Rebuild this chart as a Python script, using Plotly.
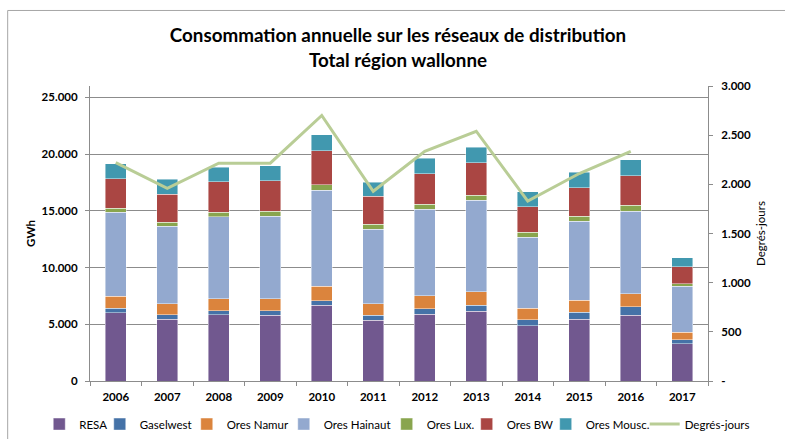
import plotly.graph_objects as go

years = ["2006", "2007", "2008", "2009", "2010", "2011", "2012", "2013", "2014", "2015", "2016", "2017"]

resa      = [6000, 5430, 5840, 5810, 6690, 5370, 5900, 6130, 4870, 5430, 5810, 3270]
gaselwest = [400, 410, 350, 380, 400, 440, 490, 530, 530, 610, 730, 350]
namur     = [1050, 970, 1080, 1080, 1270, 990, 1120, 1200, 1030, 1090, 1170, 670]
hainaut   = [7440, 6820, 7200, 7260, 8450, 6560, 7610, 8050, 6260, 6960, 7260, 4040]
lux       = [350, 380, 410, 440, 470, 440, 440, 470, 440, 440, 500, 240]
bw        = [2570, 2430, 2660, 2700, 3020, 2490, 2720, 2840, 2220, 2490, 2630, 1520]
mousc     = [1350, 1320, 1320, 1320, 1400, 1230, 1340, 1380, 1350, 1380, 1400, 760]
degres    = [2220, 1960, 2215, 2215, 2700, 1930, 2335, 2540, 1830, 2110, 2335, None]

series = [
    ("RESA", resa, "#71588F", 15.5, "legend"),
    ("Gaselwest", gaselwest, "#4572A7", 42, "legend"),
    ("Ores Namur", namur, "#DB843D", 52, "legend"),
    ("Ores Hainaut", hainaut, "#93A9CF", 72, "legend"),
    ("Ores Lux.", lux, "#89A54E", 35, "legend2"),
    ("Ores BW", bw, "#AA4643", 34, "legend2"),
    ("Ores Mousc.", mousc, "#4198AF", 54, "legend2"),
]

left_ticks = [0, 5000, 10000, 15000, 20000, 25000]
left_text = ["0", "5.000", "10.000", "15.000", "20.000", "25.000"]
right_ticks = [0, 500, 1000, 1500, 2000, 2500, 3000]
right_text = ["-", "500", "1.000", "1.500", "2.000", "2.500", "3.000"]

FONT = "Lato, Calibri, Carlito, sans-serif"

fig = go.Figure()
for name, vals, col, lw, lg in series:
    fig.add_trace(go.Bar(
        x=years, y=vals, name=name, legendwidth=lw, legend=lg,
        marker=dict(color=col, line=dict(color="rgba(255,255,255,0.55)", width=0.8)),
    ))

fig.add_trace(go.Scatter(
    x=years, y=degres, name="Degrés-jours", yaxis="y2", legendwidth=70, legend="legend2",
    mode="lines", line=dict(color="#B9CD96", width=3), connectgaps=False,
))

legend_common = dict(
    orientation="h", xref="container", yref="container",
    xanchor="left", y=0.034, yanchor="middle",
    font=dict(size=11.5, family=FONT), traceorder="normal",
    itemwidth=30, tracegroupgap=0, bgcolor="rgba(0,0,0,0)",
)

fig.update_layout(
    width=785, height=439,
    barmode="stack", bargap=0.6,
    paper_bgcolor="white", plot_bgcolor="white",
    margin=dict(l=90, r=77, t=86, b=57.5),
    font=dict(family=FONT, color="black", size=11),
    title=dict(
        text="<b>Consommation annuelle sur les réseaux de distribution<br>Total région wallonne</b>",
        x=0.507, xanchor="center", y=0.904, yanchor="middle",
        font=dict(size=18.8, family=FONT, color="black"),
    ),
    xaxis=dict(
        type="category", showline=True, linecolor="#8c8c8c", linewidth=1,
        ticks="outside", tickson="boundaries", ticklen=4, tickcolor="#8c8c8c",
        tickfont=dict(size=11.5, family=FONT, weight="bold"), ticklabelstandoff=5,
        showgrid=False, range=[-0.5, 11.5], automargin=False,
    ),
    yaxis=dict(
        range=[0, 26000], tickvals=left_ticks, ticktext=left_text,
        showline=True, linecolor="#8c8c8c", linewidth=1,
        ticks="outside", ticklen=4, tickcolor="#8c8c8c",
        showgrid=True, gridcolor="#8c8c8c", gridwidth=1,
        zeroline=False, automargin=False, ticklabelstandoff=5,
        tickfont=dict(size=11.5, family=FONT, weight="bold"),
        title=dict(text="<b>GWh</b>", font=dict(size=11.5, family=FONT), standoff=3),
    ),
    yaxis2=dict(
        range=[0, 3000], tickvals=right_ticks, ticktext=right_text,
        overlaying="y", side="right",
        showline=True, linecolor="#8c8c8c", linewidth=1,
        ticks="outside", ticklen=4, tickcolor="#8c8c8c",
        showgrid=False, zeroline=False, automargin=False, ticklabelstandoff=6,
        tickfont=dict(size=11.5, family=FONT, weight="bold"),
        title=dict(text="Degrés-jours", font=dict(size=11.5, family=FONT), standoff=6),
    ),
    legend=dict(x=0.050, **legend_common),
    legend2=dict(x=0.4926, **legend_common),
    showlegend=True,
)

fig.add_shape(type="rect", xref="paper", yref="paper",
              x0=-0.1332, x1=1.2, y0=-0.3, y1=1.256,
              line=dict(color="#a6a6a6", width=1), fillcolor="rgba(0,0,0,0)", layer="below")

fig.write_html("out.html", config={"displayModeBar": False},
               post_script="document.body.style.margin='0';")
